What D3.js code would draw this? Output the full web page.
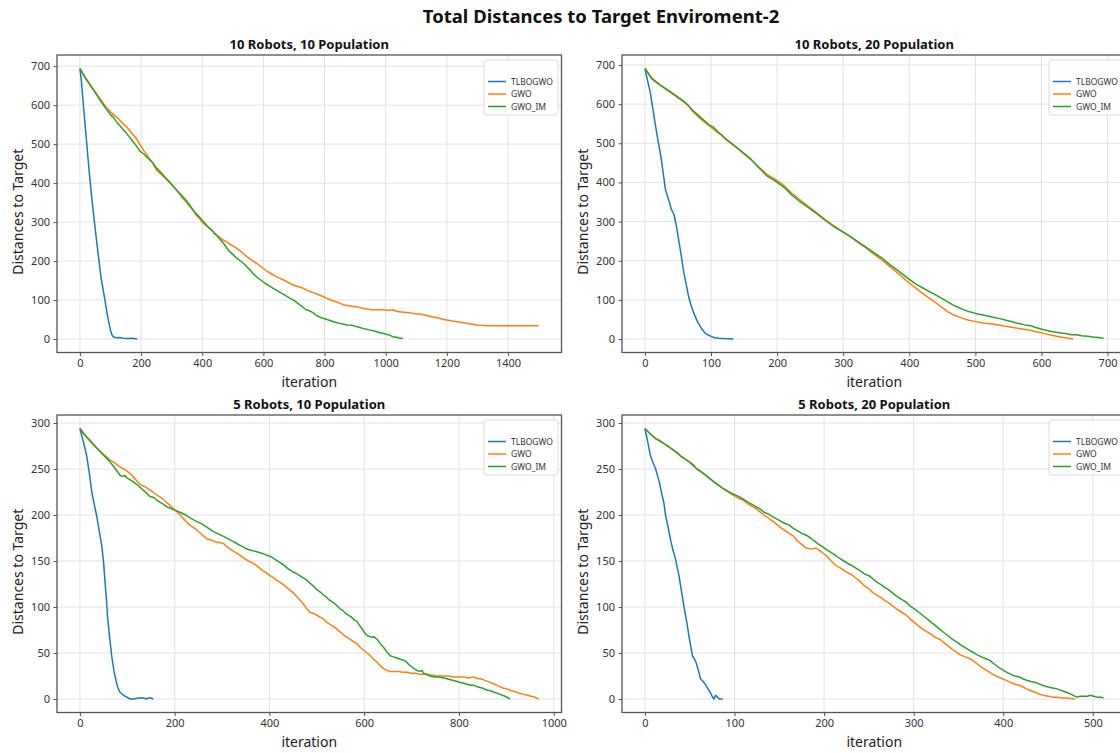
<!DOCTYPE html>
<html><head><meta charset="utf-8">
<script src="https://cdn.jsdelivr.net/npm/d3@7"></script>
<style>
html,body{margin:0;padding:0;background:#fff;overflow:hidden;}
svg{display:block;font-family:"Noto Sans","Open Sans",sans-serif;}
</style></head>
<body>
<svg id="chart" width="1120" height="753"></svg>
<script>
// ---------- data (iteration, distance) ----------
const seriesNames = ["TLBOGWO", "GWO", "GWO_IM"];
const seriesColors = ["#1f77b4", "#ff7f0e", "#2ca02c"];

const panelTitles = ["10 Robots, 10 Population", "10 Robots, 20 Population",
                     "5 Robots, 10 Population", "5 Robots, 20 Population"];

const xTicksTL = [0, 200, 400, 600, 800, 1000, 1200, 1400];
const xTicksTR = [0, 100, 200, 300, 400, 500, 600, 700];
const xTicksBL = [0, 200, 400, 600, 800, 1000];
const xTicksBR = [0, 100, 200, 300, 400, 500];
const yTicksTop = [0, 100, 200, 300, 400, 500, 600, 700];
const yTicksBottom = [0, 50, 100, 150, 200, 250, 300];

// Panel 1: 10 robots, 10 population
const tl_TLBOGWO = [[0,694],[5,660],[10,612],[20,522],[30,432],[40,352],[50,282],[60,215],[70,152],[80,108],[90,60],[100,22],[105,10],[110,5],[120,3],[130,4],[140,2],[160,1],[170,2],[187,0]];
const tl_GWO = [[0,694],[20,668],[45,640],[70,612],[87,593],[110,575],[125,566],[142,552],[155,542],[170,528],[183,516],[196,499],[210,482],[225,466],[238,452],[250,434],[265,423],[280,412],[292,402],[305,392],[320,378],[335,362],[347,352],[359,340],[370,330],[380,318],[392,308],[403,297],[420,287],[435,276],[450,265],[468,254],[480,249],[490,243],[500,239],[512,233],[530,222],[545,212],[560,203],[577,195],[595,184],[610,175],[625,168],[642,160],[665,152],[686,143],[700,138],[715,134],[728,131],[740,126],[755,121],[770,117],[783,113],[795,109],[808,104],[820,100],[835,96],[849,92],[862,88],[875,86],[890,84],[904,83],[918,80],[930,78],[945,76],[958,75],[990,75],[1010,74],[1023,75],[1035,71],[1045,70],[1067,68],[1080,67],[1095,65],[1110,64],[1121,63],[1135,60],[1150,57],[1163,55],[1176,53],[1190,50],[1205,48],[1218,46],[1230,45],[1245,43],[1260,41],[1272,39],[1285,38],[1298,36],[1310,35],[1334,34],[1400,34],[1450,34],[1500,34]];
const tl_GWO_IM = [[0,694],[20,667],[45,638],[70,608],[87,589],[100,575],[110,568],[125,552],[142,537],[155,525],[170,510],[183,497],[196,482],[210,474],[225,462],[238,452],[250,439],[265,427],[280,414],[292,404],[305,392],[320,379],[335,366],[347,356],[359,344],[370,331],[380,321],[392,312],[403,302],[414,292],[425,283],[432,279],[440,270],[446,267],[458,256],[470,245],[480,234],[490,224],[500,217],[512,208],[522,202],[534,195],[545,186],[555,178],[566,168],[577,160],[590,152],[605,143],[618,137],[632,130],[645,124],[660,117],[672,112],[686,105],[700,99],[715,90],[728,82],[740,75],[752,72],[763,67],[770,62],[782,57],[795,53],[808,50],[820,47],[835,43],[849,40],[862,38],[875,36],[890,35],[904,32],[918,29],[930,26],[944,24],[958,21],[970,19],[980,16],[990,15],[1002,12],[1012,10],[1023,6],[1032,5],[1040,3],[1056,1]];

// Panel 2: 10 robots, 20 population
const tr_TLBOGWO = [[0,691],[4,660],[8,630],[12,588],[16,545],[20,505],[24,468],[28,420],[31,382],[36,355],[40,331],[44,318],[48,285],[51,254],[55,212],[59,168],[63,135],[66,109],[70,85],[74,66],[78,50],[81,40],[86,26],[91,15],[96,10],[101,6],[106,3],[112,2],[120,1],[134,0]];
const tr_GWO = [[0,691],[5,680],[10,668],[22,650],[35,634],[47,620],[60,604],[66,596],[72,582],[85,561],[97,545],[110,527],[116,522],[122,510],[135,493],[147,477],[160,459],[172,440],[185,420],[191,414],[197,408],[210,393],[222,373],[235,355],[247,339],[260,322],[272,306],[285,290],[297,276],[310,262],[322,247],[335,232],[347,216],[360,200],[372,183],[385,165],[397,147],[410,130],[422,114],[434,100],[442,90],[450,80],[458,70],[466,62],[474,57],[482,52],[490,48],[499,45],[512,41],[525,38],[537,35],[548,32],[562,28],[575,24],[582,23],[590,19],[602,15],[612,11],[623,7],[636,3],[648,0]];
const tr_GWO_IM = [[0,691],[5,678],[10,665],[22,650],[35,636],[47,622],[60,606],[72,585],[85,565],[97,547],[103,542],[110,530],[122,512],[135,495],[147,478],[160,460],[172,438],[185,416],[197,404],[210,388],[214,382],[222,368],[235,350],[247,336],[260,320],[272,304],[285,288],[297,276],[310,263],[322,249],[335,234],[347,220],[360,205],[372,188],[385,172],[397,156],[410,140],[422,129],[434,118],[444,109],[453,100],[460,93],[466,87],[474,81],[482,75],[490,70],[499,66],[512,61],[525,56],[537,52],[548,47],[556,44],[562,41],[575,36],[584,34],[590,30],[602,24],[615,19],[629,15],[637,14],[645,11],[653,11],[661,8],[670,7],[678,5],[686,4],[694,2]];

// Panel 3: 5 robots, 10 population
const bl_TLBOGWO = [[0,294],[7,280],[14,265],[20,245],[25,225],[30,212],[35,200],[40,185],[46,167],[50,148],[53,127],[56,108],[58,91],[62,70],[67,47],[72,30],[77,18],[81,11],[85,7],[92,4],[99,2],[106,0],[113,0],[124,1],[134,1],[140,0],[145,1],[150,1],[155,0]];
const bl_GWO = [[0,294],[15,284],[25,278],[35,273],[50,266],[63,260],[75,256],[85,252],[96,249],[106,245],[117,239],[127,233],[136,231],[145,228],[154,225],[162,222],[171,219],[180,215],[189,211],[197,207],[206,203],[215,198],[224,193],[232,189],[241,186],[250,182],[259,178],[268,174],[276,173],[285,171],[294,170],[303,169],[311,165],[320,162],[329,159],[338,156],[346,153],[355,150],[364,148],[373,145],[380,142],[387,139],[394,137],[401,134],[408,132],[415,129],[422,127],[430,124],[437,121],[444,118],[451,115],[458,111],[465,107],[472,103],[479,98],[486,94],[493,93],[500,91],[507,89],[514,87],[522,83],[531,80],[540,77],[549,73],[558,69],[567,66],[576,63],[585,60],[592,56],[599,53],[606,50],[613,47],[620,43],[627,40],[634,36],[641,33],[648,31],[655,30],[664,30],[672,30],[681,29],[690,29],[699,28],[708,28],[716,27],[725,27],[734,26],[743,26],[752,25],[761,25],[770,25],[778,25],[787,24],[796,24],[803,24],[810,24],[817,23],[824,23],[830,24],[835,23],[840,22],[845,22],[851,21],[856,20],[861,19],[866,18],[875,16],[884,14],[893,12],[901,11],[910,9],[919,8],[928,6],[937,5],[945,4],[952,3],[960,2],[968,0]];
const bl_GWO_IM = [[0,294],[10,287],[20,282],[35,273],[50,265],[63,258],[75,250],[85,243],[90,242],[95,243],[100,240],[113,236],[125,231],[136,226],[148,220],[156,219],[165,215],[175,212],[183,209],[197,206],[211,203],[223,200],[235,196],[246,193],[258,190],[270,186],[282,182],[294,179],[306,176],[317,173],[324,171],[331,169],[338,167],[345,165],[352,163],[360,162],[366,161],[373,160],[380,159],[386,158],[396,156],[402,155],[408,153],[414,151],[420,149],[426,147],[432,145],[438,142],[444,140],[450,138],[455,137],[461,135],[467,133],[473,131],[479,129],[485,126],[490,124],[496,121],[502,118],[508,116],[514,113],[520,111],[525,108],[531,106],[537,104],[543,101],[549,98],[555,96],[561,93],[567,91],[573,89],[579,86],[585,84],[590,80],[596,76],[601,72],[606,69],[611,68],[617,67],[620,68],[624,66],[627,65],[634,60],[641,56],[648,51],[655,47],[660,46],[666,45],[672,44],[678,43],[684,42],[690,40],[695,37],[700,35],[705,33],[711,31],[718,30],[722,31],[725,28],[732,27],[739,25],[748,24],[757,24],[766,23],[775,22],[782,21],[789,20],[796,19],[803,18],[810,17],[817,16],[824,15],[831,15],[840,13],[849,12],[857,10],[866,9],[876,7],[887,5],[897,3],[908,0]];

// Panel 4: 5 robots, 20 population
const br_TLBOGWO = [[0,294],[3,280],[6,265],[9,257],[12,250],[16,236],[19,222],[21,214],[23,200],[26,186],[29,171],[31,163],[34,153],[36,143],[38,134],[41,116],[44,98],[47,82],[49,69],[51,58],[53,47],[55,44],[57,40],[60,30],[62,22],[65,19],[68,15],[71,10],[73,7],[75,3],[77,0],[79,4],[81,2],[83,0],[87,0]];
const br_GWO = [[0,294],[6,288],[12,283],[17,281],[22,277],[26,275],[31,271],[40,264],[49,258],[54,255],[58,250],[68,243],[77,236],[87,229],[96,223],[105,218],[110,216],[115,212],[124,207],[133,200],[143,193],[152,186],[161,180],[166,177],[170,172],[175,168],[180,164],[186,163],[191,164],[197,160],[202,156],[208,150],[213,145],[219,142],[225,138],[231,135],[236,131],[241,127],[245,123],[250,120],[254,116],[259,113],[264,110],[268,107],[273,104],[278,100],[282,97],[287,94],[292,91],[296,87],[301,83],[306,79],[310,76],[315,73],[320,70],[324,67],[329,65],[334,61],[338,58],[343,54],[348,51],[352,48],[357,46],[362,44],[366,42],[371,38],[375,35],[380,32],[385,29],[390,26],[394,24],[399,22],[404,20],[408,18],[413,16],[418,15],[422,13],[426,11],[431,9],[436,7],[441,5],[445,4],[450,3],[455,2],[460,2],[465,1],[470,1],[480,0]];
const br_GWO_IM = [[0,294],[6,288],[12,283],[17,280],[22,277],[31,271],[36,268],[40,264],[49,258],[58,250],[63,247],[68,243],[77,236],[87,229],[96,224],[105,220],[110,217],[115,214],[124,209],[128,207],[133,203],[138,201],[143,198],[152,193],[156,191],[161,189],[165,186],[170,183],[175,180],[180,178],[185,175],[190,171],[194,168],[199,165],[203,162],[208,159],[213,156],[217,153],[222,150],[227,147],[231,145],[236,142],[241,139],[245,136],[250,134],[254,131],[259,127],[264,124],[268,121],[273,118],[278,114],[282,111],[287,108],[292,105],[296,101],[301,98],[306,94],[310,91],[315,87],[320,83],[324,80],[329,76],[334,72],[338,69],[343,65],[348,62],[352,59],[357,56],[362,53],[366,51],[371,48],[375,46],[380,44],[385,42],[390,38],[394,35],[399,32],[404,29],[408,27],[413,25],[418,24],[422,22],[427,20],[431,19],[436,18],[441,16],[446,14],[450,13],[455,12],[460,11],[466,9],[471,7],[476,5],[482,2],[486,3],[490,3],[494,3],[497,4],[501,3],[505,2],[509,2],[512,1]];

// ---------- layout ----------
const svg = d3.select("#chart");
const W = 1120, H = 753;
const cols = [[57, 561.5], [622, 1126.5]];
const rows = [[55, 352.5], [415, 712.5]];

const panels = [
  {title: panelTitles[0], col: 0, row: 0, series: [tl_TLBOGWO, tl_GWO, tl_GWO_IM], xt: xTicksTL, yt: yTicksTop},
  {title: panelTitles[1], col: 1, row: 0, series: [tr_TLBOGWO, tr_GWO, tr_GWO_IM], xt: xTicksTR, yt: yTicksTop},
  {title: panelTitles[2], col: 0, row: 1, series: [bl_TLBOGWO, bl_GWO, bl_GWO_IM], xt: xTicksBL, yt: yTicksBottom},
  {title: panelTitles[3], col: 1, row: 1, series: [br_TLBOGWO, br_GWO, br_GWO_IM], xt: xTicksBR, yt: yTicksBottom}
];

svg.append("rect").attr("width", W).attr("height", H).attr("fill", "#fff");

svg.append("text")
  .attr("x", 601).attr("y", 23)
  .attr("text-anchor", "middle")
  .attr("font-size", 18.5).attr("font-weight", "bold").attr("fill", "#111")
  .text("Total Distances to Target Enviroment-2");

const frameColor = "#555";
const tickTextColor = "#333";

panels.forEach(p => {
  const [x0, x1] = cols[p.col];
  const [y0, y1] = rows[p.row];
  const all = p.series.flat();
  const xmax = d3.max(all, d => d[0]), xmin = 0;
  const ymax = d3.max(all, d => d[1]), ymin = 0;
  const xm = (xmax - xmin) * 0.05, ym = (ymax - ymin) * 0.05;
  const x = d3.scaleLinear().domain([xmin - xm, xmax + xm]).range([x0, x1]);
  const y = d3.scaleLinear().domain([ymin - ym, ymax + ym]).range([y1, y0]);

  const g = svg.append("g");

  // grid
  g.append("g").selectAll("line").data(p.xt).join("line")
    .attr("x1", d => x(d)).attr("x2", d => x(d)).attr("y1", y0).attr("y2", y1)
    .attr("stroke", "#e3e3e3").attr("stroke-width", 1);
  g.append("g").selectAll("line").data(p.yt).join("line")
    .attr("x1", x0).attr("x2", x1).attr("y1", d => y(d)).attr("y2", d => y(d))
    .attr("stroke", "#e3e3e3").attr("stroke-width", 1);

  // lines
  const line = d3.line().x(d => x(d[0])).y(d => y(d[1]));
  const clipId = "clip" + p.col + p.row;
  g.append("clipPath").attr("id", clipId).append("rect")
    .attr("x", x0).attr("y", y0).attr("width", x1 - x0).attr("height", y1 - y0);
  p.series.forEach((s, i) => {
    g.append("path").datum(s).attr("d", line)
      .attr("fill", "none").attr("stroke", seriesColors[i])
      .attr("stroke-width", 1.5).attr("stroke-linejoin", "round")
      .attr("clip-path", `url(#${clipId})`);
  });

  // axes
  const xAxis = d3.axisBottom(x).tickValues(p.xt).tickSize(3.5).tickPadding(3.5).tickFormat(d3.format("d"));
  const yAxis = d3.axisLeft(y).tickValues(p.yt).tickSize(3.5).tickPadding(3.5).tickFormat(d3.format("d"));
  const gx = g.append("g").attr("transform", `translate(0,${y1})`).call(xAxis);
  const gy = g.append("g").attr("transform", `translate(${x0},0)`).call(yAxis);
  [gx, gy].forEach(a => {
    a.select(".domain").remove();
    a.selectAll(".tick line").attr("stroke", frameColor).attr("stroke-width", 1);
    a.selectAll(".tick text").attr("fill", tickTextColor).attr("font-size", 11)
      .attr("font-family", '"Noto Sans","Open Sans",sans-serif');
  });

  // frame
  g.append("rect").attr("x", x0).attr("y", y0).attr("width", x1 - x0).attr("height", y1 - y0)
    .attr("fill", "none").attr("stroke", frameColor).attr("stroke-width", 1.3);

  // titles & labels
  g.append("text").attr("x", (x0 + x1) / 2).attr("y", y0 - 6)
    .attr("text-anchor", "middle").attr("font-size", 13).attr("font-weight", "bold").attr("fill", "#111")
    .text(p.title);
  g.append("text").attr("x", (x0 + x1) / 2).attr("y", y1 + 34)
    .attr("text-anchor", "middle").attr("font-size", 14).attr("fill", "#222")
    .text("iteration");
  g.append("text")
    .attr("transform", `translate(${x0 - 34},${(y0 + y1) / 2 + 8}) rotate(-90)`)
    .attr("text-anchor", "middle").attr("font-size", 14).attr("fill", "#222")
    .text("Distances to Target");

  // legend
  const lx = x0 + 427, ly = y0 + 5;
  const lg = g.append("g");
  lg.append("rect").attr("x", lx).attr("y", ly).attr("width", 74).attr("height", 55)
    .attr("rx", 3).attr("fill", "#fff").attr("fill-opacity", 0.85)
    .attr("stroke", "#dcdcdc").attr("stroke-width", 1);
  seriesNames.forEach((n, i) => {
    const yy = ly + 21.5 + i * 12.5;
    lg.append("line").attr("x1", lx + 4).attr("x2", lx + 22).attr("y1", yy).attr("y2", yy)
      .attr("stroke", seriesColors[i]).attr("stroke-width", 1.5);
    lg.append("text").attr("x", lx + 27).attr("y", yy + 3.2)
      .attr("font-size", 8.5).attr("fill", "#333").text(n);
  });
});
</script>
</body></html>
